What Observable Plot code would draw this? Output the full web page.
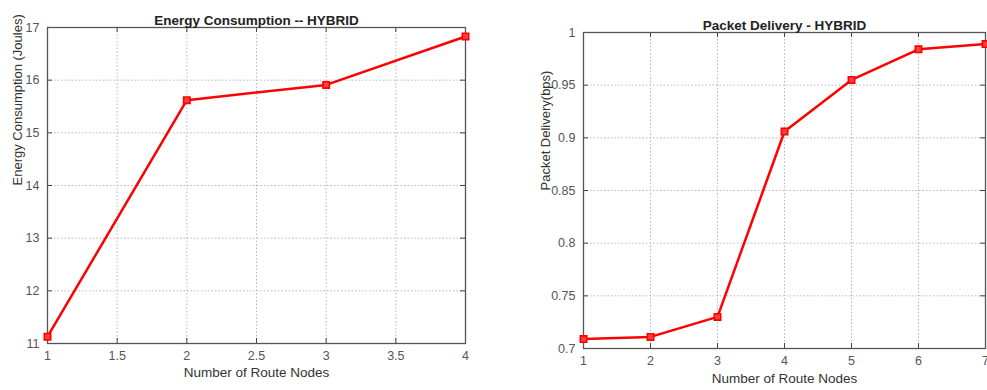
<!DOCTYPE html>
<html><head><meta charset="utf-8">
<script src="https://cdn.jsdelivr.net/npm/d3@7"></script>
<script src="https://cdn.jsdelivr.net/npm/@observablehq/plot@0.6"></script>
<style>
body{margin:0;background:#fff;}
#wrap{position:relative;width:987px;height:390px;overflow:hidden;font-family:"Liberation Sans",Arial,sans-serif;}
#a{position:absolute;left:0;top:0;}
#b{position:absolute;left:490px;top:0;}
</style></head>
<body><div id="wrap"><div id="a"></div><div id="b"></div></div>
<script>
const nodesA = [1, 2, 3, 4];
const energy = [11.13, 15.62, 15.91, 16.83];
const xTicksA = [1, 1.5, 2, 2.5, 3, 3.5, 4];
const yTicksA = [11, 12, 13, 14, 15, 16, 17];

const nodesB = [1, 2, 3, 4, 5, 6, 7];
const delivery = [0.709, 0.711, 0.730, 0.906, 0.955, 0.984, 0.989];
const xTicksB = [1, 2, 3, 4, 5, 6, 7];
const yTicksB = [0.7, 0.75, 0.8, 0.85, 0.9, 0.95, 1];

const titleA = "Energy Consumption -- HYBRID";
const titleB = "Packet Delivery - HYBRID";
const xLabel = "Number of Route Nodes";
const yLabelA = "Energy Consumption (Joules)";
const yLabelB = "Packet Delivery(bps)";

function chart({width, height, margins, xs, ys, xDomain, yDomain, xTicks, yTicks, title, xl, yl, yDx, xDy}) {
  const data = xs.map((x, i) => ({x, y: ys[i]}));
  const ph = height - margins.top - margins.bottom;
  const pw = width - margins.left - margins.right;
  const fmt = d => d3.format("~g")(d);
  return Plot.plot({
    width, height,
    marginLeft: margins.left, marginRight: margins.right, marginTop: margins.top, marginBottom: margins.bottom,
    style: {fontFamily: "'Liberation Sans', Arial, sans-serif", fontSize: "12px", color: "#444", background: "white"},
    x: {domain: xDomain},
    y: {domain: yDomain},
    marks: [
      Plot.gridX(xTicks, {stroke: "#b8b8b8", strokeOpacity: 1, strokeDasharray: "1.5,2"}),
      Plot.gridY(yTicks, {stroke: "#b8b8b8", strokeOpacity: 1, strokeDasharray: "1.5,2"}),
      Plot.tickX(xTicks, {x: d => d, insetTop: ph - 5, stroke: "#444"}),
      Plot.tickX(xTicks, {x: d => d, insetBottom: ph - 5, stroke: "#444"}),
      Plot.tickY(yTicks, {y: d => d, insetRight: pw - 5, stroke: "#444"}),
      Plot.tickY(yTicks, {y: d => d, insetLeft: pw - 5, stroke: "#444"}),
      Plot.axisX(xTicks, {tickSize: 0, tickPadding: 8, tickFormat: fmt, label: null, fontSize: 12.5, fill: "#555"}),
      Plot.axisY(yTicks, {tickSize: 0, tickPadding: 8, tickFormat: fmt, label: null, fontSize: 12.5, fill: "#555"}),
      Plot.frame({stroke: "#555", strokeWidth: 1.3}),
      Plot.line(data, {x: "x", y: "y", stroke: "#ff0000", strokeWidth: 2.5}),
      Plot.dot(data, {x: "x", y: "y", symbol: "square", r: 3.6, stroke: "#ff0000", strokeWidth: 1.6, fill: "#ff4040"}),
      Plot.text([title], {text: d => d, frameAnchor: "top", dy: -12, fontWeight: "bold", fontSize: 13.5, fill: "#222"}),
      Plot.text([xl], {text: d => d, frameAnchor: "bottom", dy: xDy, fontSize: 13.5, fill: "#333"}),
      Plot.text([yl], {text: d => d, frameAnchor: "left", dx: yDx, rotate: -90, fontSize: 13, fill: "#333"})
    ]
  });
}

document.getElementById("a").appendChild(chart({
  width: 490, height: 390,
  margins: {left: 47, right: 25, top: 27, bottom: 47},
  xs: nodesA, ys: energy, xDomain: [1, 4], yDomain: [11, 17],
  xTicks: xTicksA, yTicks: yTicksA, title: titleA, xl: xLabel, yl: yLabelA, yDx: -30, xDy: 33
}));
document.getElementById("b").appendChild(chart({
  width: 497, height: 390,
  margins: {left: 93, right: 2, top: 32, bottom: 42},
  xs: nodesB, ys: delivery, xDomain: [1, 7], yDomain: [0.7, 1],
  xTicks: xTicksB, yTicks: yTicksB, title: titleB, xl: xLabel, yl: yLabelB, yDx: -38, xDy: 34
}));
</script></body></html>
